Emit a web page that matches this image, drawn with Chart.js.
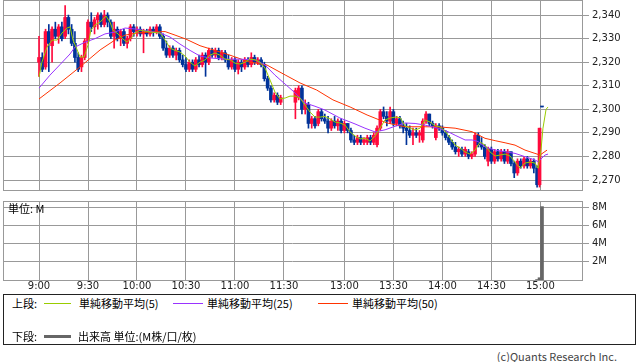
<!DOCTYPE html>
<html lang="ja">
<head>
<meta charset="utf-8">
<title>株価チャート</title>
<script src="https://cdn.jsdelivr.net/npm/chart.js@4.4.1/dist/chart.umd.min.js"></script>
<style>
  html, body { margin: 0; padding: 0; background: #fff; }
  #wrap { position: relative; width: 638px; height: 362px; overflow: hidden; color: #000;
          font-family: "Noto Sans CJK JP", sans-serif; }
  canvas { position: absolute; left: 0; }
  .t { position: absolute; font-size: 11px; line-height: 13px; white-space: nowrap; }
  .ln { position: absolute; height: 1px; }
  #legend { position: absolute; left: 3px; top: 294px; width: 631px; height: 49px; border: 1px solid #222; }
</style>
</head>
<body>
<div id="wrap">
  <canvas id="price" width="638" height="192" style="top:0"></canvas>
  <canvas id="volume" width="638" height="98" style="top:196px"></canvas>
  <div class="t" style="left:8px;top:202px">単位: M</div>

  <div id="legend"></div>
  <div class="t" style="left:12px;top:297px">上段:</div>
  <div class="ln" style="left:44px;top:303px;width:27px;background:#99cc00"></div>
  <div class="t" style="left:79px;top:297px">単純移動平均(5)</div>
  <div class="ln" style="left:173px;top:303px;width:30px;background:#9933ff"></div>
  <div class="t" style="left:207px;top:297px">単純移動平均(25)</div>
  <div class="ln" style="left:318px;top:303px;width:30px;background:#ff3300"></div>
  <div class="t" style="left:352px;top:297px">単純移動平均(50)</div>
  <div class="t" style="left:12px;top:330px">下段:</div>
  <div class="ln" style="left:44px;top:335px;width:27px;height:3px;background:#666"></div>
  <div class="t" style="left:78px;top:330px">出来高 単位:(M株/口/枚)</div>

  <div class="t" style="right:21px;top:350px;color:#444">(c)Quants Research Inc.</div>
</div>
<script>
// time axis: minutes from 9:00, lunch break squeezed (12:30 -> 157)
const tickTimes = [0, 30, 60, 90, 120, 150, 187, 217, 247, 277, 307];
const tickLabels = ['9:00', '9:30', '10:00', '10:30', '11:00', '11:30', '13:00', '13:30', '14:00', '14:30', '15:00'];
const priceTicks = [2270, 2280, 2290, 2300, 2310, 2320, 2330, 2340];
const volumeTicks = [2, 4, 6, 8];

// 2-minute bars: morning 9:00-11:28, afternoon 12:30-14:58, then close
const barTimes = [];
for (let i = 0; i < 75; i++) barTimes.push(i * 2);
for (let i = 0; i < 75; i++) barTimes.push(157 + i * 2);
barTimes.push(306.5, 308);

const opens = [
  2320,2322,2318,2333,2327,2334,2331,2335,2331,2339, 2334,2328,2322,2318,2322,2329,2337,2335,2338,2340,
  2336,2340,2337,2331,2334,2330,2333,2328,2330,2335, 2333,2334,2332,2333,2332,2334,2333,2335,2331,2326,
  2323,2326,2323,2325,2321,2319,2317,2320,2317,2321, 2319,2323,2320,2325,2323,2325,2322,2324,2321,2318,
  2321,2317,2320,2318,2321,2319,2322,2320,2321,2319, 2313,2309,2304,2306,2303,
  2303,2305,2309,2300,2302,2294,2296,2294,2299,2296, 2295,2292,2295,2293,2295,2291,2294,2291,2287,2286,
  2288,2286,2286,2288,2286,2285,2292,2299,2297,2295, 2299,2294,2296,2293,2292,2291,2289,2290,2289,2287,
  2295,2298,2294,2288,2293,2292,2290,2288,2286,2284, 2282,2283,2281,2282,2280,2281,2289,2285,2284,2278,
  2283,2278,2282,2279,2282,2278,2282,2277,2273,2278, 2276,2279,2276,2278,2275,
  2268,2301
];
const highs = [
  2331,2324,2334,2336,2335,2337,2336,2337,2344,2340, 2336,2333,2324,2323,2330,2338,2341,2339,2341,2341,
  2342,2341,2338,2337,2335,2334,2334,2331,2336,2336, 2335,2335,2334,2334,2335,2335,2336,2336,2332,2329,
  2327,2327,2326,2326,2323,2322,2321,2321,2322,2323, 2324,2324,2326,2326,2326,2326,2325,2325,2323,2322,
  2322,2321,2321,2322,2322,2324,2323,2322,2322,2320, 2314,2310,2307,2307,2306,
  2309,2310,2310,2304,2303,2297,2297,2300,2300,2298, 2297,2296,2297,2296,2296,2295,2294,2292,2289,2289,
  2289,2288,2289,2289,2290,2293,2300,2301,2299,2301, 2300,2297,2297,2295,2294,2293,2292,2292,2291,2296,
  2299,2298,2295,2294,2294,2293,2291,2289,2287,2286, 2284,2284,2284,2283,2282,2290,2290,2288,2285,2284,
  2284,2283,2283,2283,2283,2283,2282,2278,2279,2279, 2280,2280,2279,2279,2276,
  2292,2301
];
const lows = [
  2314,2316,2317,2316,2320,2330,2328,2329,2330,2332, 2327,2320,2316,2316,2321,2328,2333,2332,2334,2335,
  2335,2335,2330,2326,2329,2327,2327,2326,2329,2331, 2331,2331,2324,2331,2331,2331,2332,2330,2325,2322,
  2322,2322,2321,2320,2318,2316,2316,2316,2316,2318, 2318,2314,2319,2322,2322,2321,2321,2320,2317,2317,
  2316,2315,2316,2317,2318,2318,2319,2319,2318,2312, 2308,2303,2303,2302,2302,
  2296,2304,2298,2298,2292,2292,2292,2293,2295,2294, 2290,2291,2292,2291,2290,2290,2290,2286,2285,2285,
  2285,2285,2285,2285,2285,2284,2291,2296,2293,2294, 2293,2293,2292,2290,2285,2288,2285,2288,2286,2286,
  2294,2293,2292,2287,2291,2289,2287,2285,2283,2281, 2280,2280,2280,2279,2279,2280,2284,2283,2279,2276,
  2277,2277,2278,2278,2277,2277,2276,2271,2272,2275, 2275,2275,2275,2273,2267,
  2267,2301
];
const closes = [
  2322,2317,2333,2328,2334,2331,2335,2330,2339,2334, 2328,2322,2317,2322,2329,2337,2335,2338,2340,2336,
  2340,2337,2331,2334,2330,2333,2328,2330,2335,2333, 2334,2332,2333,2332,2334,2333,2335,2331,2326,2323,
  2326,2323,2325,2321,2319,2317,2320,2317,2321,2319, 2323,2320,2325,2323,2325,2322,2324,2321,2318,2321,
  2317,2320,2318,2321,2319,2322,2320,2321,2319,2313, 2309,2304,2306,2303,2305,
  2308,2309,2300,2302,2294,2296,2293,2299,2296,2295, 2292,2295,2293,2295,2291,2294,2291,2287,2286,2288,
  2286,2287,2288,2286,2289,2292,2299,2297,2295,2299, 2294,2296,2293,2292,2291,2289,2290,2289,2290,2295,
  2298,2294,2293,2293,2292,2290,2288,2286,2284,2282, 2283,2281,2283,2280,2281,2289,2285,2284,2280,2283,
  2278,2282,2279,2282,2278,2282,2277,2273,2278,2276, 2279,2276,2278,2275,2268,
  2292,2301
];

const ma5Times = [0,1.8,4.9,8.0,11.0,14.1,17.1,19.0,20.8,22.7,25.1,27.6,30.0,31.8,34.3,37.4,41.0,43.5,45.3,48.4,
  50.8,53.9,56.3,58.8,61.9,68.0,74.1,77.2,80.2,83.3,86.3,89.4,92.5,95.5,98.6,101.7,104.7,107.8,110.8,113.9,
  117.0,120.0,123.1,126.2,129.2,132.3,135.3,138.4,141.5,144.5,147.6,150.7,153.7,156.8,159.8,162.9,166.0,169.0,172.1,175.1,
  178.2,181.3,184.3,187.4,190.5,193.5,196.6,199.6,202.7,205.8,208.8,211.9,215.0,218.0,221.1,224.1,227.2,230.3,233.3,236.4,
  239.4,242.5,245.6,248.6,251.7,254.8,257.8,260.9,263.9,267.0,270.1,273.1,276.2,279.3,282.3,285.4,288.4,291.5,294.6,297.6,
  300.7,303.7,305.6,307.4,308.6,310.5,311.7];
const ma5Values = [2313.7,2320,2326.4,2329.4,2329.4,2332.4,2334.5,2335,2329.4,2326.4,2322.2,2322.2,2327.3,2333.6,2335.8,2337,2339.6,2337,2333.6,2332,
  2330.2,2328.5,2330.2,2332.4,2333.6,2332.8,2332.4,2329.4,2326,2325,2324.3,2322.6,2320,2318.4,2320,2321,2323,2323.9,2323,2321.3,
  2321,2319.6,2319.2,2320,2321.3,2321,2320,2317.5,2312.4,2307.3,2304.4,2304.8,2305.6,2305.6,2304.8,2301.8,2298.8,2296.7,2296.7,2297,
  2295.9,2294.6,2294.2,2293.3,2290.4,2288.7,2287.4,2287.8,2286.5,2288.7,2292,2295.5,2296.3,2296.7,2296.5,2293,2292,2291.2,2292,2295.5,
  2294.6,2293,2292.5,2290.8,2287.8,2284.8,2283.6,2281.9,2281,2282.7,2286.1,2284.8,2281.9,2280.2,2280.6,2281,2280.2,2277.6,2275,2277.2,
  2277.6,2277.2,2275,2282.7,2292,2300,2301];

const ma25Times = [0,6.7,12.9,19.0,22.0,28.2,34.3,40.4,46.5,52.7,60.0,68.0,74.1,80.2,86.3,92.5,98.6,104.7,113.9,123.1,
  132.3,138.4,144.5,150.7,156.8,162.9,169.0,175.1,184.3,193.5,199.6,205.8,211.9,218.0,224.1,230.3,236.4,244.3,250.5,254.8,
  260.9,265.2,268.9,273.2,279.3,285.4,291.5,297.6,303.7,305.6,309.9,311.7];
const ma25Values = [2309,2314.5,2319,2323.5,2326.4,2328.5,2330,2332,2332.8,2334.5,2334,2333,2332.4,2330.7,2327.7,2325,2322.6,2321.8,2321.3,2321.3,
  2321,2318.8,2314.5,2310.7,2307,2302.7,2301.3,2299.7,2296.3,2293.8,2292,2290.4,2291.3,2292.8,2294.2,2294,2293.3,2292,2290.5,2289,
  2287,2287,2286.3,2284,2282.7,2282,2281.3,2279.9,2278.5,2277.8,2280.6,2281];

const ma50Times = [0,12.9,25.1,37.4,46.5,52.7,60.0,68.0,77.2,83.3,90.0,98.6,107.8,116.9,129.2,139.6,150.7,159.8,170.0,180.0,
  190.5,200.9,213.1,224.1,236.4,245.6,254.8,265.2,273.1,279.3,285.4,291.5,297.6,303.7,306.8,311.1];
const ma50Values = [2304.4,2311.2,2318,2325.2,2329.4,2331.5,2332.4,2332.8,2333,2331.5,2329.8,2327,2325,2323,2320,2318.8,2314.6,2311.2,2308.2,2304,
  2301,2297.6,2294.2,2292.6,2292.6,2292.5,2292,2290.5,2287.7,2286.7,2285.8,2284.8,2282.7,2281.3,2280.6,2282.7];

const volumeTimes = [305, 306.5, 308];
const volumeValues = [0.05, 0.25, 8.1];

const UP = '#ff0a3c';
const DOWN = '#003399';
const GRID = '#999999';
const X_MIN = -22.05, X_MAX = 332.5;

Chart.defaults.font.family = "'DejaVu Sans', sans-serif";
Chart.defaults.font.size = 10;
Chart.defaults.color = '#222';

const pairs = (xs, ys) => xs.map((x, i) => ({ x: x, y: ys[i] }));
const candleColors = barTimes.map((t, i) => closes[i] > opens[i] ? UP : DOWN);

const frame = {
  id: 'frame',
  afterDraw(chart) {
    const { ctx, chartArea: a } = chart;
    ctx.save();
    ctx.strokeStyle = GRID;
    ctx.lineWidth = 1;
    ctx.strokeRect(Math.round(a.left) + 0.5, Math.round(a.top) + 0.5,
      Math.round(a.right - a.left), Math.round(a.bottom - a.top));
    ctx.restore();
  }
};

function timeAxis(showLabels) {
  return {
    type: 'linear', min: X_MIN, max: X_MAX, offset: false,
    grid: { color: GRID, drawTicks: false, offset: false },
    border: { color: GRID },
    ticks: {
      display: showLabels, padding: 0, autoSkip: false, maxRotation: 0,
      callback: (v) => tickLabels[tickTimes.indexOf(v)]
    },
    afterBuildTicks: (s) => { s.ticks = tickTimes.map(v => ({ value: v })); },
    afterFit: (s) => {
      s.paddingLeft = 0; s.paddingRight = 0;
      if (showLabels) s.height = 14;
    }
  };
}

function valueAxis(min, max, ticks, fmt) {
  return {
    position: 'right', min: min, max: max,
    grid: { color: GRID, tickLength: 7 },
    border: { color: GRID },
    ticks: { padding: 3, callback: fmt },
    afterBuildTicks: (s) => { s.ticks = ticks.map(v => ({ value: v })); },
    afterFit: (s) => { s.width = 56; s.paddingTop = 0; s.paddingBottom = 0; }
  };
}

const maLine = (label, xs, ys, color) => ({
  type: 'line', label: label, data: pairs(xs, ys),
  borderColor: color, borderWidth: 1, pointRadius: 0, tension: 0, order: 0
});

new Chart(document.getElementById('price'), {
  type: 'bar',
  data: {
    datasets: [
      maLine('単純移動平均(5)', ma5Times, ma5Values, '#99cc00'),
      maLine('単純移動平均(25)', ma25Times, ma25Values, '#9933ff'),
      maLine('単純移動平均(50)', ma50Times, ma50Values, '#ff3300'),
      {
        label: 'body', order: 1, barThickness: 3, minBarLength: 1, grouped: false,
        data: barTimes.map((t, i) => ({ x: t, y: [Math.min(opens[i], closes[i]), Math.max(opens[i], closes[i])] })),
        backgroundColor: candleColors
      },
      {
        label: 'wick', order: 2, barThickness: 1, grouped: false,
        data: barTimes.map((t, i) => ({ x: t, y: [lows[i], highs[i]] })),
        backgroundColor: candleColors
      }
    ]
  },
  options: {
    responsive: false, animation: false,
    layout: { padding: { left: 3, top: 0, right: 0, bottom: 2 } },
    plugins: { legend: { display: false }, tooltip: { enabled: false } },
    scales: {
      x: timeAxis(false),
      y: valueAxis(2265.76, 2346.4, priceTicks, (v) => v.toLocaleString('en-US'))
    }
  },
  plugins: [frame]
});

new Chart(document.getElementById('volume'), {
  type: 'bar',
  data: {
    datasets: [{
      label: '出来高', data: pairs(volumeTimes, volumeValues),
      backgroundColor: '#666666', barThickness: 3, grouped: false
    }]
  },
  options: {
    responsive: false, animation: false,
    layout: { padding: { left: 3, top: 5, right: 0, bottom: 0 } },
    plugins: { legend: { display: false }, tooltip: { enabled: false } },
    scales: {
      x: timeAxis(true),
      y: valueAxis(0, 8.72, volumeTicks, (v) => v + 'M')
    }
  },
  plugins: [frame]
});
</script>
</body>
</html>
